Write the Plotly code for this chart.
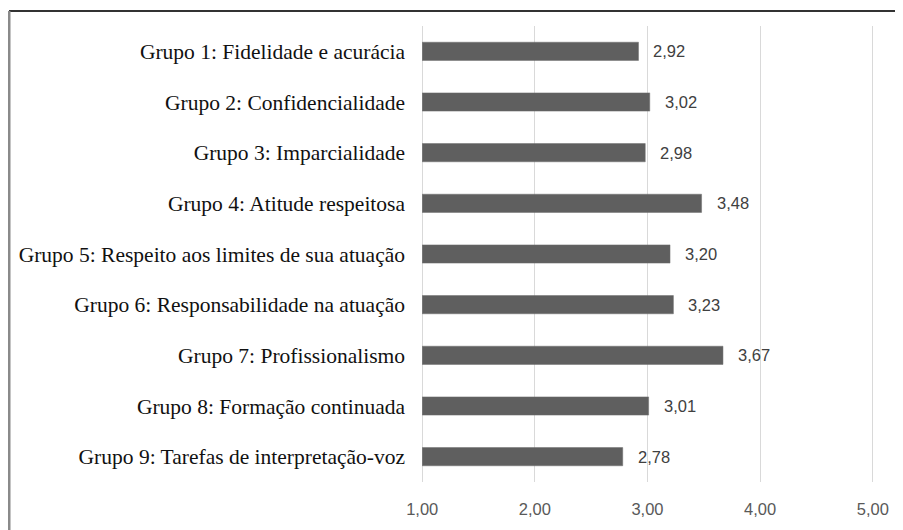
import plotly.graph_objects as go

categories = [
    "Grupo 1: Fidelidade e acurácia",
    "Grupo 2: Confidencialidade",
    "Grupo 3: Imparcialidade",
    "Grupo 4: Atitude respeitosa",
    "Grupo 5: Respeito aos limites de sua atuação",
    "Grupo 6: Responsabilidade na atuação",
    "Grupo 7: Profissionalismo",
    "Grupo 8: Formação continuada",
    "Grupo 9: Tarefas de interpretação-voz",
]
values = [2.92, 3.02, 2.98, 3.48, 3.20, 3.23, 3.67, 3.01, 2.78]
tick_vals = [1, 2, 3, 4, 5]
tick_text = ["1,00", "2,00", "3,00", "4,00", "5,00"]

def fmt(v):
    return f"{v:.2f}".replace(".", ",")

# page body has an 8px margin; figure sized so the plot lands where the reference has it
W, H = 895, 522
L, R, T, B = 414, 30, 18, 48
PW, PH = W - L - R, H - T - B

fig = go.Figure()
fig.add_trace(go.Bar(
    y=categories,
    x=[v - 1 for v in values],
    base=1,
    orientation="h",
    width=0.36,
    marker=dict(color="#5f5f5f", line=dict(color="#6e6e6e", width=0.5)),
    hoverinfo="skip",
))

for c, v in zip(categories, values):
    fig.add_annotation(
        x=v, y=c, xref="x", yref="y",
        text=fmt(v), showarrow=False,
        xanchor="left", xshift=13,
        font=dict(family="Liberation Sans, Arial, sans-serif", size=16.5, color="#404040"),
    )

fig.update_layout(
    width=W, height=H,
    margin=dict(l=L, r=R, t=T, b=B),
    paper_bgcolor="white",
    plot_bgcolor="white",
    showlegend=False,
    xaxis=dict(
        range=[0.998, 5.002],
        tickvals=tick_vals,
        ticktext=tick_text,
        showgrid=True,
        gridcolor="#d9d9d9",
        gridwidth=1,
        zeroline=False,
        showline=False,
        ticks="",
        ticklabelstandoff=15,
        tickfont=dict(family="Liberation Sans, Arial, sans-serif", size=16.5, color="#595959"),
        fixedrange=True,
    ),
    yaxis=dict(
        categoryorder="array",
        categoryarray=categories[::-1],
        showgrid=False,
        zeroline=False,
        showline=False,
        ticks="",
        ticklabelstandoff=16,
        tickfont=dict(family="Liberation Serif, Times New Roman, serif", size=21.5, color="#111111"),
        fixedrange=True,
    ),
)

# edge gridlines (at first and last tick) that plotly omits at the plot border
for tv in (tick_vals[0], tick_vals[-1]):
    fig.add_shape(type="line", xref="x", yref="paper",
                  x0=tv, x1=tv, y0=0, y1=1,
                  line=dict(color="#d9d9d9", width=1.5), layer="below")

# outer frame: dark top line and grey left line
ytop = 1 + 15 / PH
fig.add_shape(type="line", xref="paper", yref="paper",
              x0=-(L - 1) / PW, x1=1 + (R + 5) / PW, y0=ytop, y1=ytop,
              line=dict(color="#333333", width=2), layer="above")
fig.add_shape(type="line", xref="paper", yref="paper",
              x0=-(L - 1) / PW, x1=-(L - 1) / PW, y0=-(B + 5) / PH, y1=ytop,
              line=dict(color="#8a8a8a", width=3), layer="above")

fig.write_html("out.html")
